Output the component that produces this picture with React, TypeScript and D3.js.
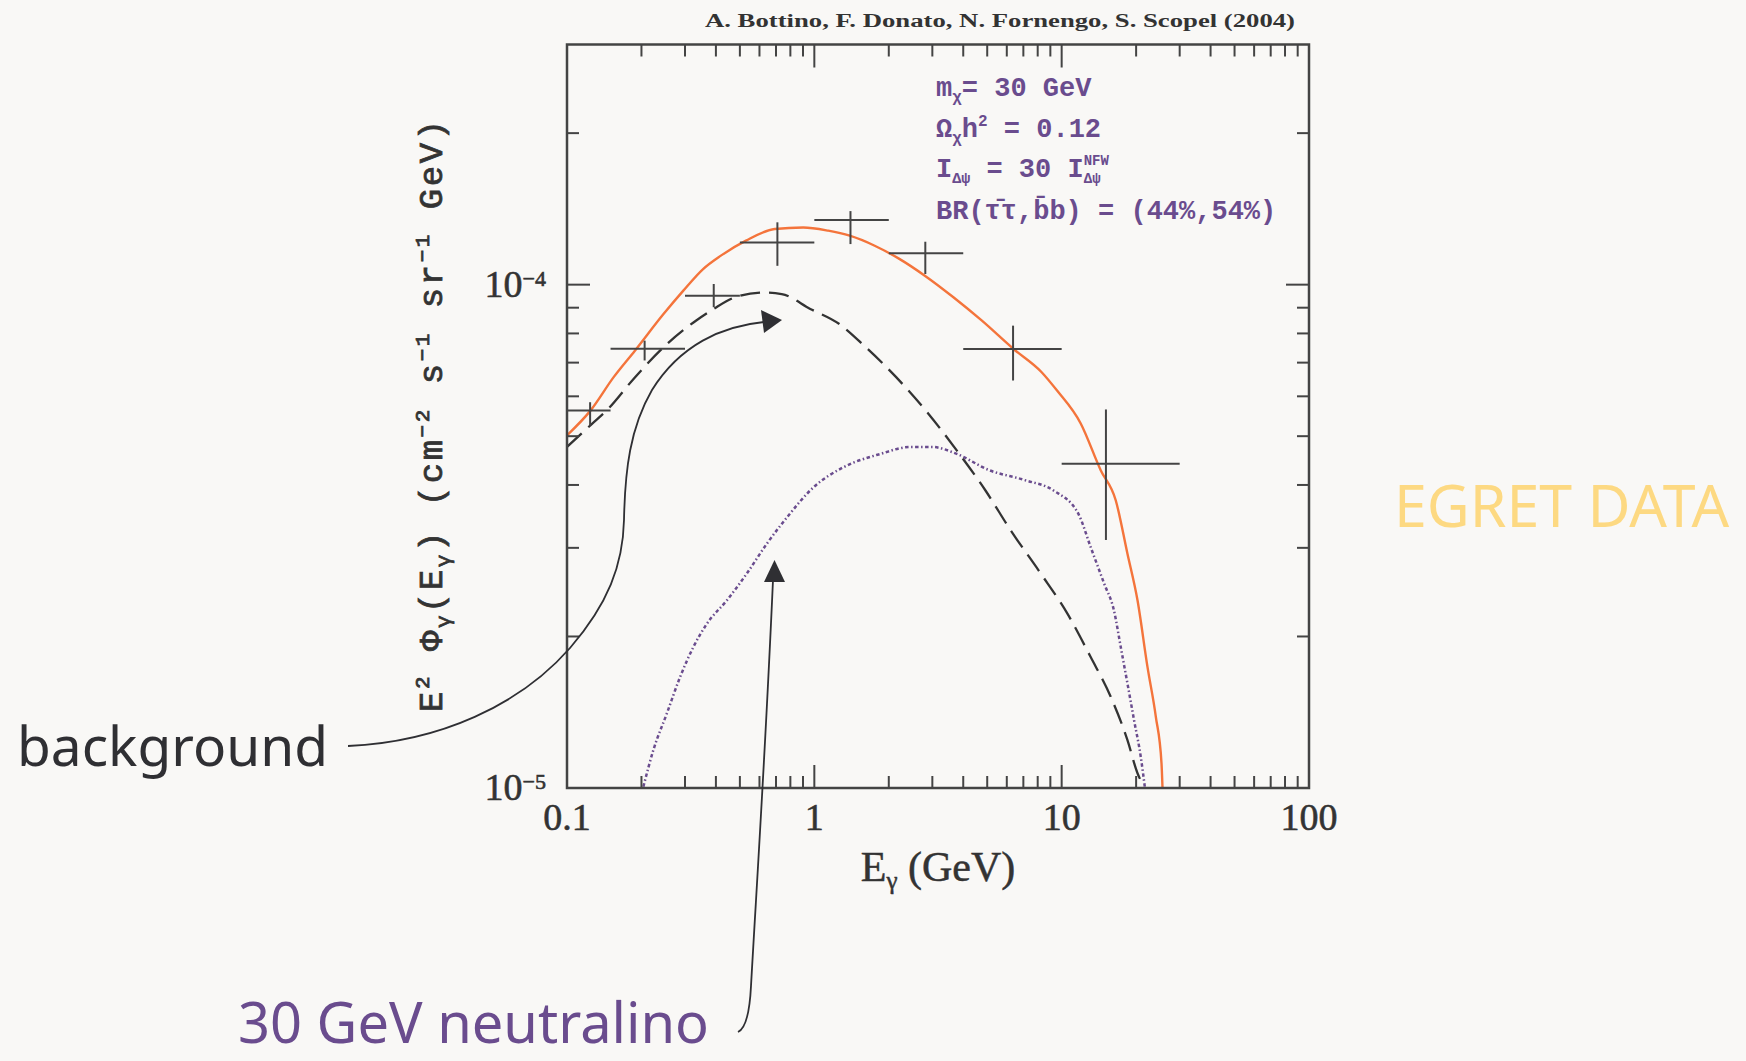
import React from 'react';
import * as d3 from 'd3';

const W = 1746;
const H = 1061;

// EGRET gamma-ray data (GeV, GeV cm^-2 s^-1 sr^-1)
const egretE = [0.124, 0.206, 0.392, 0.709, 1.4, 2.81, 6.36, 15.1];
const egretELo = [0.1, 0.15, 0.3, 0.5, 1, 2, 4, 10];
const egretEHi = [0.15, 0.3, 0.5, 1, 2, 4, 10, 30];
const egretFlux = [5.62e-5, 7.46e-5, 9.51e-5, 1.213e-4, 1.344e-4, 1.154e-4, 7.45e-5, 4.41e-5];
const egretFluxLo = [5.25e-5, 7.07e-5, 9.02e-5, 1.09e-4, 1.204e-4, 1.05e-4, 6.45e-5, 3.11e-5];
const egretFluxHi = [5.84e-5, 7.74e-5, 1.003e-4, 1.33e-4, 1.4e-4, 1.217e-4, 8.29e-5, 5.65e-5];

// total = background + neutralino (solid orange)
const totalE = [0.1, 0.1244, 0.1544, 0.1885, 0.246, 0.2954, 0.355, 0.419, 0.529, 0.691, 0.902, 1.138, 1.39, 1.754, 2.215, 2.797, 3.65, 4.76, 6.39, 8.3, 9.58, 11.94, 14.38, 16.54, 18.45, 20.26, 22.23, 24.03, 25.33, 25.57];
const totalFlux = [5.02e-5, 5.62e-5, 6.55e-5, 7.4e-5, 8.75e-5, 9.73e-5, 1.074e-4, 1.142e-4, 1.223e-4, 1.29e-4, 1.299e-4, 1.28e-4, 1.251e-4, 1.195e-4, 1.124e-4, 1.042e-4, 9.44e-5, 8.48e-5, 7.45e-5, 6.7e-5, 6.16e-5, 5.3e-5, 4.28e-5, 3.73e-5, 2.92e-5, 2.36e-5, 1.74e-5, 1.385e-5, 1.12e-5, 1.0e-5];

// background (black dashed)
const bkgE = [0.1, 0.1262, 0.1444, 0.1885, 0.2543, 0.332, 0.392, 0.479, 0.625, 0.738, 0.963, 1.258, 1.588, 2.142, 2.891, 3.77, 4.92, 6.22, 8.22, 10.55, 13.1, 15.79, 18.45, 20.26, 21.54];
const bkgFlux = [4.76e-5, 5.29e-5, 5.62e-5, 6.55e-5, 7.63e-5, 8.48e-5, 8.95e-5, 9.44e-5, 9.65e-5, 9.58e-5, 8.95e-5, 8.36e-5, 7.57e-5, 6.55e-5, 5.54e-5, 4.68e-5, 3.9e-5, 3.25e-5, 2.67e-5, 2.22e-5, 1.82e-5, 1.518e-5, 1.245e-5, 1.07e-5, 1.006e-5];

// 30 GeV neutralino signal (purple dotted)
const chiE = [0.2036, 0.2235, 0.2533, 0.2868, 0.3245, 0.3678, 0.4432, 0.534, 0.6436, 0.7756, 0.9935, 1.314, 1.85, 2.447, 2.988, 3.77, 5.09, 7.1, 9.27, 11.7, 13.1, 14.84, 16.28, 17.33, 18.45, 19.62, 20.88, 21.68];
const chiFlux = [1.006e-5, 1.19e-5, 1.406e-5, 1.663e-5, 1.907e-5, 2.12e-5, 2.36e-5, 2.67e-5, 3.06e-5, 3.45e-5, 3.96e-5, 4.34e-5, 4.61e-5, 4.76e-5, 4.76e-5, 4.61e-5, 4.28e-5, 4.09e-5, 3.9e-5, 3.5e-5, 3.01e-5, 2.55e-5, 2.25e-5, 1.907e-5, 1.613e-5, 1.364e-5, 1.154e-5, 1.006e-5];

const xMajor = [0.1, 1, 10, 100];
const xTickLabels = ['0.1', '1', '10', '100'];
const yMajor = [1e-5, 1e-4];
const yTickExp = ['−5', '−4'];

const plot = { left: 567, right: 1309, top: 44.5, bottom: 788 };

const x = d3.scaleLog().domain([0.1, 100]).range([plot.left, plot.right]);
const y = d3.scaleLog().domain([1e-5, 3e-4]).range([plot.bottom, plot.top]);

const mkLine = d3
  .line<[number, number]>()
  .x((d) => x(d[0]))
  .y((d) => y(d[1]))
  .curve(d3.curveMonotoneX);

const zip = (a: number[], b: number[]) => a.map((v, i) => [v, b[i]] as [number, number]);

const xMinor: number[] = [];
[0.1, 1, 10].forEach((d) => {
  for (let k = 2; k <= 9; k++) xMinor.push(d * k);
});
const yMinor: number[] = [];
[1e-5, 1e-4].forEach((d) => {
  for (let k = 2; k <= 9; k++) if (d * k < 3e-4) yMinor.push(d * k);
});

const AXIS = '#444';
const PURPLE = '#6a4c8e';
const ORANGE = '#f4743b';
const serif = "'Liberation Serif', 'Times New Roman', serif";
const mono = "'Liberation Mono', 'DejaVu Sans Mono', monospace";
const sans = "'Noto Sans', 'Open Sans', sans-serif";

function Ticks() {
  const out: React.ReactNode[] = [];
  const tk = (v: number, len: number, key: string) => {
    const px = x(v);
    out.push(<line key={key + 'b'} x1={px} x2={px} y1={plot.bottom} y2={plot.bottom - len} />);
    out.push(<line key={key + 't'} x1={px} x2={px} y1={plot.top} y2={plot.top + len} />);
  };
  const tky = (v: number, len: number, key: string) => {
    const py = y(v);
    out.push(<line key={key + 'l'} x1={plot.left} x2={plot.left + len} y1={py} y2={py} />);
    out.push(<line key={key + 'r'} x1={plot.right} x2={plot.right - len} y1={py} y2={py} />);
  };
  xMajor.forEach((v, i) => tk(v, 23, 'xM' + i));
  xMinor.forEach((v, i) => tk(v, 12, 'xm' + i));
  yMajor.forEach((v, i) => tky(v, 23, 'yM' + i));
  yMinor.forEach((v, i) => tky(v, 12, 'ym' + i));
  return (
    <g stroke={AXIS} strokeWidth={2}>
      {out}
    </g>
  );
}

export default function App() {
  return (
    <div style={{ position: 'fixed', left: 0, top: 0, width: W, height: H, background: '#f9f8f6' }}>
      <svg width={W} height={H} viewBox={`0 0 ${W} ${H}`}>
        <defs>
          <clipPath id="plotClip">
            <rect x={plot.left} y={plot.top} width={plot.right - plot.left} height={plot.bottom - plot.top} />
          </clipPath>
        </defs>

        {/* credit line */}
        <text x={1295} y={27} textAnchor="end" fontFamily={serif} fontWeight="bold" fontSize={18}
          fill="#333" textLength={590} lengthAdjust="spacingAndGlyphs">
          A. Bottino, F. Donato, N. Fornengo, S. Scopel (2004)
        </text>

        {/* curves */}
        <g clipPath="url(#plotClip)" fill="none">
          <path d={mkLine(zip(bkgE, bkgFlux)) || ''} stroke="#333" strokeWidth={2.3} strokeDasharray="20 9" />
          <path d={mkLine(zip(chiE, chiFlux)) || ''} stroke={PURPLE} strokeWidth={2.5} strokeDasharray="3.5 2.5 1.5 2.5" />
          <path d={mkLine(zip(totalE, totalFlux)) || ''} stroke={ORANGE} strokeWidth={2.4} />
        </g>

        {/* EGRET crosses */}
        <g stroke="#444" strokeWidth={2}>
          {egretE.map((e, i) => (
            <g key={'eg' + i}>
              <line x1={x(egretELo[i])} x2={x(egretEHi[i])} y1={y(egretFlux[i])} y2={y(egretFlux[i])} />
              <line x1={x(e)} x2={x(e)} y1={y(egretFluxLo[i])} y2={y(egretFluxHi[i])} />
            </g>
          ))}
        </g>

        {/* frame and ticks */}
        <rect x={plot.left} y={plot.top} width={plot.right - plot.left} height={plot.bottom - plot.top}
          fill="none" stroke={AXIS} strokeWidth={2.5} />
        <Ticks />

        {/* tick labels */}
        <g fontFamily={serif} fontSize={38} fill="#333" stroke="#333" strokeWidth={0.6}>
          {xMajor.map((v, i) => (
            <text key={'xl' + i} x={x(v)} y={830} textAnchor="middle">{xTickLabels[i]}</text>
          ))}
          {yMajor.map((v, i) => (
            <text key={'yl' + i} x={546} y={y(v) + 12} textAnchor="end">
              10<tspan fontSize={22} dy={-11}>{yTickExp[i]}</tspan>
            </text>
          ))}
        </g>

        {/* axis titles */}
        <text x={(plot.left + plot.right) / 2} y={881} textAnchor="middle" fontFamily={serif} fontSize={42}
          fill="#333" stroke="#333" strokeWidth={0.5}>
          E<tspan fontSize={25} dy={8}>γ</tspan><tspan dy={-8}> (GeV)</tspan>
        </text>
        <text transform="translate(442,416) rotate(-90)" textAnchor="middle" fontFamily={mono} fontSize={34}
          fill="#333" stroke="#333" strokeWidth={0.8} textLength={592} lengthAdjust="spacing">
          E<tspan fontSize={21} dy={-13}>2</tspan>
          <tspan dy={13}> Φ</tspan><tspan fontSize={21} dy={8}>γ</tspan>
          <tspan dy={-8}>(E</tspan><tspan fontSize={21} dy={8}>γ</tspan>
          <tspan dy={-8}>)  (cm</tspan><tspan fontSize={21} dy={-13}>−2</tspan>
          <tspan dy={13}> s</tspan><tspan fontSize={21} dy={-13}>−1</tspan>
          <tspan dy={13}> sr</tspan><tspan fontSize={21} dy={-13}>−1</tspan>
          <tspan dy={13}> GeV)</tspan>
        </text>

        {/* model parameters */}
        <g fontFamily={mono} fontWeight="bold" fontSize={27} fill={PURPLE}>
          <text x={936} y={96}>
            m<tspan fontSize={16} dy={6}>χ</tspan><tspan dy={-6}>= 30 GeV</tspan>
          </text>
          <text x={936} y={137}>
            Ω<tspan fontSize={16} dy={6}>χ</tspan><tspan dy={-6}>h</tspan>
            <tspan fontSize={16} dy={-11}>2</tspan><tspan dy={11}> = 0.12</tspan>
          </text>
          <text x={936} y={177}>
            I<tspan fontSize={15} dy={6}>Δψ</tspan><tspan dy={-6}> = 30 I</tspan>
            <tspan fontSize={14} dy={-12}>NFW</tspan><tspan fontSize={14} dx={-25} dy={18}>Δψ</tspan>
          </text>
          <text x={936} y={219}>BR(τ̄τ,b̄b) = (44%,54%)</text>
        </g>

        {/* annotations */}
        <g fill="none" stroke="#2f2f33" strokeWidth={1.8}>
          <path d="M348,746 C440,742 520,705 570,648 C608,604 623,565 624,520 C625,470 630,428 652,390 C680,345 722,326 764,322" />
          <path d="M738,1032 Q749,1027 751,986 C757,880 765,760 773,580" />
        </g>
        <g fill="#2f2f33">
          <path d="M782,320 L761,310 L764,333 Z" />
          <path d="M774.5,560 L764,582 L785,582 Z" />
        </g>

        <text x={17} y={766} fontFamily={sans} fontSize={55} fill="#2f2f33">background</text>
        <text x={238} y={1043} fontFamily={sans} fontSize={56} fill={PURPLE}>30 GeV neutralino</text>
        <text x={1394} y={527} fontFamily={sans} fontSize={59} fill="#fdd982">EGRET DATA</text>
      </svg>
    </div>
  );
}
